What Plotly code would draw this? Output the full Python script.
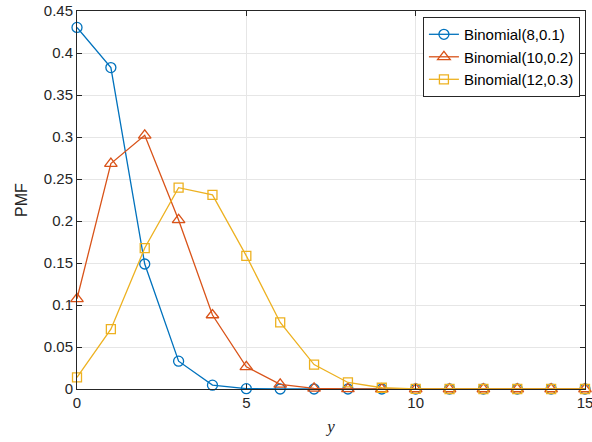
import plotly.graph_objects as go

y_vals = list(range(16))
pmf_8_01 = [0.4305, 0.3826, 0.1488, 0.0331, 0.0046, 0.0004, 0.0000, 0.0000, 0.0000,
            0, 0, 0, 0, 0, 0, 0]
pmf_10_02 = [0.1074, 0.2684, 0.3020, 0.2013, 0.0881, 0.0264, 0.0055, 0.0008, 0.0001,
             0.0000, 0.0000, 0, 0, 0, 0, 0]
pmf_12_03 = [0.0138, 0.0712, 0.1678, 0.2397, 0.2311, 0.1585, 0.0792, 0.0291, 0.0078,
             0.0015, 0.0002, 0.0000, 0.0000, 0, 0, 0]

names = ["Binomial(8,0.1)", "Binomial(10,0.2)", "Binomial(12,0.3)"]
colors = ["#0072BD", "#D95319", "#EDB120"]
symbols = ["circle-open", "triangle-up-open", "square-open"]
sizes = [10, 11, 9]
series = [pmf_8_01, pmf_10_02, pmf_12_03]

fig = go.Figure()
for s, n, c, sym, sz in zip(series, names, colors, symbols, sizes):
    fig.add_trace(go.Scatter(
        x=y_vals, y=s, name=n, mode="lines+markers",
        line=dict(color=c, width=1.3),
        marker=dict(symbol=sym, size=sz, color=c, line=dict(width=1.3, color=c)),
        cliponaxis=False,
    ))

axis_common = dict(
    showline=True, linecolor="#262626", linewidth=1, mirror="allticks",
    ticks="inside", ticklen=5, tickcolor="#262626",
    showgrid=True, gridcolor="#E6E6E6", gridwidth=1, zeroline=False,
    tickfont=dict(family="Liberation Sans, Arial", size=15, color="#262626"),
    ticklabeloverflow="allow", automargin=False,
)

fig.update_layout(
    width=592, height=442,
    margin=dict(l=77, r=7, t=11, b=53, autoexpand=False),
    paper_bgcolor="white", plot_bgcolor="white",
    font=dict(family="Liberation Sans, Arial", size=15, color="#262626"),
    showlegend=True,
    legend=dict(
        x=0.99, y=0.984, xanchor="right", yanchor="top",
        bgcolor="white", bordercolor="#262626", borderwidth=1,
        font=dict(family="Liberation Sans, Arial", size=15, color="black"),
        tracegroupgap=0, itemwidth=30,
    ),
    xaxis=dict(range=[0, 15], tickvals=[0, 5, 10, 15],
               title=dict(text="<i>y</i>", font=dict(family="Liberation Serif, Times New Roman", size=17),
                          standoff=10),
               **axis_common),
    yaxis=dict(range=[0, 0.45], tickvals=[0, 0.05, 0.1, 0.15, 0.2, 0.25, 0.3, 0.35, 0.4, 0.45],
               ticktext=["0", "0.05", "0.1", "0.15", "0.2", "0.25", "0.3", "0.35", "0.4", "0.45"],
               title=dict(text="PMF", font=dict(family="Liberation Sans, Arial", size=16), standoff=12),
               **axis_common),
)

fig.write_html("out.html", config={"displayModeBar": False},
               post_script="document.body.style.margin='0px';document.body.style.overflow='hidden';")
